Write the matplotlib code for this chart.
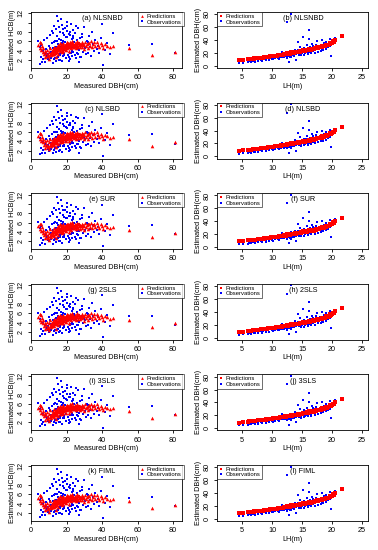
import matplotlib
matplotlib.use('Agg')
import matplotlib.pyplot as plt
from matplotlib.lines import Line2D

plt.rcParams['font.family'] = ['Liberation Sans', 'DejaVu Sans']

# tree data: DBH (cm), LH (m), observed HCB, predicted HCB, predicted DBH
dbh = [4.2, 4.8, 5.1, 5.5, 5.9, 6.3, 6.7, 7.0, 7.4, 7.8,
       8.1, 8.4, 8.9, 9.2, 9.6, 9.9, 10.3, 10.6, 11.0, 11.4,
       11.7, 12.0, 12.2, 12.5, 12.8, 13.0, 13.3, 13.5, 13.8, 14.0,
       14.2, 14.5, 14.7, 15.0, 15.2, 15.4, 15.7, 15.9, 16.1, 16.4,
       16.6, 16.8, 17.0, 17.3, 17.5, 17.7, 18.0, 18.2, 18.5, 18.8,
       19.0, 19.3, 19.5, 19.8, 20.0, 20.2, 20.5, 20.7, 21.0, 21.3,
       21.5, 21.8, 22.0, 22.3, 22.5, 22.8, 23.0, 23.3, 23.6, 23.9,
       24.2, 24.5, 24.8, 25.1, 25.4, 25.7, 26.0, 26.3, 26.6, 27.0,
       27.3, 27.7, 28.1, 28.5, 28.9, 29.3, 29.7, 30.1, 30.5, 30.9,
       31.4, 31.9, 32.5, 33.0, 33.6, 34.2, 34.8, 35.5, 36.2, 36.9,
       37.6, 38.4, 39.2, 40.0, 40.8, 41.6, 43.0, 44.5, 46.2, 55.0, 68.0, 81.0,
       12.3, 13.6, 14.9, 16.0, 17.2, 18.4, 19.6, 20.8, 22.1, 23.4,
       10.8, 14.4, 16.3, 18.1, 19.9, 21.2, 22.6, 24.0, 25.5, 27.5,
       9.4, 11.2, 13.1, 15.5, 17.9, 20.3, 23.1, 25.9, 28.7, 32.2,
       14.1, 16.9, 18.6, 20.4, 21.9, 23.7, 12.6, 17.4, 21.6, 26.8]
lh = [4.5, 5.2, 6.0, 12.8, 6.4, 7.1, 6.2, 7.6, 6.9, 8.3,
      6.8, 8.9, 14.0, 9.5, 8.1, 10.2, 7.7, 9.0, 11.1, 8.6,
      10.5, 9.3, 12.4, 11.0, 9.8, 13.2, 10.9, 12.0, 8.7, 11.6,
      13.0, 10.1, 12.7, 19.8, 11.4, 9.6, 13.6, 12.2, 10.8, 14.8,
      11.9, 13.4, 15.3, 10.6, 12.9, 14.0, 11.3, 16.0, 13.1, 12.5,
      14.6, 13.8, 16.5, 12.0, 15.0, 17.2, 13.5, 14.4, 15.8, 11.6,
      16.2, 14.1, 17.6, 15.4, 13.2, 16.8, 15.9, 18.1, 14.7, 17.0,
      15.1, 18.5, 16.4, 13.9, 17.4, 16.0, 19.0, 15.6, 17.9, 16.6,
      18.2, 15.3, 17.1, 19.4, 16.3, 18.8, 14.6, 17.7, 19.7, 16.9,
      18.0, 15.8, 19.2, 17.3, 20.0, 16.7, 18.6, 19.9, 14.3, 20.3,
      19.0, 17.5, 20.2, 18.4, 16.1, 19.6, 20.5, 15.2, 21.6, 16.2, 12.4, 13.1,
      10.0, 11.5, 12.3, 13.3, 14.5, 13.0, 15.5, 16.0, 14.0, 15.2,
      8.4, 11.8, 12.6, 14.8, 13.9, 15.1, 16.5, 14.3, 15.8, 17.3,
      7.0, 9.9, 11.2, 12.9, 13.6, 14.9, 16.3, 18.3, 17.0, 18.7,
      10.4, 12.2, 13.7, 12.8, 15.6, 16.1, 9.1, 11.1, 14.5, 16.7]
hcb_obs = [6.1, 1.2, 4.8, 2.6, 5.3, 1.6, 3.9, 2.2, 6.2, 3.4,
           1.5, 4.4, 2.9, 6.8, 3.2, 5.1, 2.0, 7.4, 3.7, 2.4,
           5.6, 8.3, 3.1, 4.5, 2.2, 9.2, 3.8, 6.1, 1.8, 4.9,
           3.4, 7.1, 11.5, 5.4, 2.7, 10.3, 4.1, 6.6, 3.0, 8.0,
           2.1, 4.7, 6.3, 3.6, 9.5, 5.0, 2.9, 7.7, 4.2, 3.3,
           5.8, 8.8, 3.9, 2.4, 6.9, 4.4, 10.1, 3.1, 5.2, 1.9,
           4.6, 7.4, 3.5, 9.7, 5.5, 2.8, 6.5, 4.0, 8.4, 3.7,
           5.9, 3.0, 7.9, 4.8, 2.5, 6.2, 4.3, 8.9, 3.4, 5.6,
           4.1, 6.7, 2.6, 5.3, 7.6, 3.8, 5.0, 9.1, 4.5, 3.2,
           6.0, 3.5, 7.2, 4.7, 2.9, 8.1, 5.4, 3.9, 6.4, 4.4,
           5.1, 3.6, 6.8, 9.8, 0.9, 4.2, 5.7, 3.3, 7.7, 5.3, 5.5, 3.5,
           7.8, 2.5, 4.0, 9.0, 5.7, 3.0, 7.0, 4.9, 2.2, 6.8,
           4.6, 6.0, 3.3, 8.6, 4.5, 7.5, 3.6, 5.3, 9.3, 2.7,
           2.3, 3.0, 5.9, 2.0, 6.1, 8.2, 4.7, 3.5, 6.9, 5.8,
           8.6, 10.8, 7.3, 9.4, 8.0, 7.1, 1.4, 1.7, 2.6, 1.6]
hcb_pred = [5.2, 5.8, 4.6, 5.6, 4.1, 5.0, 3.8, 4.5, 3.3, 4.0,
            2.6, 3.5, 2.9, 4.2, 3.1, 3.8, 2.3, 4.6, 3.4, 3.0,
            3.9, 3.3, 4.4, 4.0, 3.2, 4.8, 3.6, 4.3, 2.7, 4.1,
            4.6, 3.7, 4.9, 5.3, 4.2, 3.4, 5.1, 4.5, 3.9, 5.6,
            4.3, 4.8, 5.4, 3.8, 4.7, 5.0, 4.0, 5.7, 4.9, 4.4,
            5.2, 5.0, 5.5, 4.1, 5.3, 5.8, 4.6, 5.1, 5.6, 4.0,
            5.4, 4.8, 5.9, 5.2, 4.5, 5.6, 5.3, 6.1, 4.9, 5.5,
            5.0, 5.7, 5.3, 4.6, 5.5, 5.1, 6.0, 4.8, 5.6, 5.2,
            5.6, 4.7, 5.2, 5.8, 4.9, 5.5, 4.4, 5.3, 5.9, 5.0,
            5.4, 4.6, 5.7, 5.1, 6.0, 4.8, 5.5, 5.8, 5.0, 5.9,
            5.3, 4.9, 5.6, 5.2, 4.6, 5.4, 5.1, 4.8, 5.0, 4.5, 3.0, 3.8,
            3.5, 4.5, 4.4, 5.0, 5.2, 4.6, 5.4, 5.5, 4.7, 5.2,
            3.2, 4.2, 4.5, 5.3, 4.9, 5.1, 5.6, 4.8, 5.2, 5.5,
            2.8, 3.6, 3.9, 4.7, 4.8, 5.0, 5.3, 5.7, 5.4, 5.6,
            3.8, 4.6, 5.0, 4.8, 5.5, 5.4, 3.4, 4.2, 5.0, 5.6]
dbh_pred = [8.5, 9.3, 10.1, 19.2, 10.6, 11.5, 10.4, 12.0, 11.2, 12.8,
            11.0, 13.4, 20.8, 14.3, 12.6, 15.2, 12.1, 13.6, 16.4, 13.1,
            15.5, 14.1, 18.3, 16.2, 14.7, 19.6, 16.0, 17.6, 13.2, 17.0,
            19.0, 15.0, 18.7, 35.0, 16.9, 14.5, 20.3, 18.0, 15.8, 22.7,
            17.5, 19.8, 23.5, 15.7, 19.2, 21.0, 16.6, 24.6, 19.5, 18.5,
            22.0, 20.9, 25.4, 17.8, 22.6, 27.0, 20.1, 21.7, 24.2, 17.2,
            24.8, 21.2, 27.8, 23.6, 19.8, 26.0, 24.4, 28.9, 22.3, 26.5,
            23.0, 30.1, 25.2, 21.0, 27.2, 24.6, 31.5, 23.8, 28.4, 25.9,
            29.5, 23.4, 27.0, 32.6, 25.0, 31.0, 22.0, 28.2, 34.0, 26.6,
            28.8, 24.6, 31.8, 27.6, 36.0, 26.2, 30.4, 35.2, 21.5, 37.5,
            33.0, 28.5, 38.2, 31.0, 25.8, 36.0, 40.5, 24.0, 45.5, 26.0, 19.5, 20.8,
            14.8, 16.8, 17.7, 19.4, 21.2, 19.0, 23.0, 24.0, 20.6, 22.8,
            12.7, 17.3, 18.5, 22.2, 20.6, 22.9, 25.0, 21.6, 23.9, 26.8,
            11.3, 14.9, 16.5, 19.2, 20.3, 22.4, 24.6, 29.2, 25.5, 30.2,
            15.6, 18.2, 20.4, 19.0, 23.7, 24.8, 13.6, 16.4, 21.5, 25.6]

models = ['NLSNBD', 'NLSBD', 'SUR', '2SLS', '3SLS', 'FIML']
letters = 'abcdefghijkl'

W, H = 378, 550
fig = plt.figure(figsize=(W / 100, H / 100), dpi=100)

fs = 5.2
ms = 2.1


def style(ax):
    for s in ax.spines.values():
        s.set_linewidth(0.6)
    ax.tick_params(direction='out', length=2.5, width=0.6, labelsize=fs, pad=2)
    for lab in ax.get_yticklabels():
        lab.set_rotation(90)
        lab.set_va('center')


def add_legend(ax, pred_marker, loc, anchor):
    handles = [Line2D([], [], ls='', marker=pred_marker, color='red', ms=2.0, mew=0),
               Line2D([], [], ls='', marker='s', color='blue', ms=1.6, mew=0)]
    leg = ax.legend(handles, ['Predictions', 'Observations'], loc=loc,
                    bbox_to_anchor=anchor, fontsize=4.2, frameon=True,
                    fancybox=False, edgecolor='black', handlelength=0.8,
                    handletextpad=0.4, borderpad=0.3, labelspacing=0.1,
                    borderaxespad=0)
    leg.get_frame().set_linewidth(0.5)


for i, m in enumerate(models):
    top = 12 + 90.6 * i
    bottom = 1 - (top + 56) / H

    # left: HCB vs DBH
    ax = fig.add_axes([31 / W, bottom, 151 / W, 56 / H])
    ax.plot(dbh, hcb_obs, 's', color='blue', ms=ms, mew=0)
    ax.plot(dbh, hcb_pred, '^', color='red', ms=ms + 0.5, mew=0)
    ax.set_xlim(0, 85)
    ax.set_ylim(0.3, 12.3)
    ax.set_xticks([0, 20, 40, 60, 80])
    ax.set_yticks([2, 4, 6, 8, 10, 12])
    ax.set_yticklabels(['2', '4', '6', '8', '', '12'])
    ax.set_xlabel('Measured DBH(cm)', fontsize=fs, labelpad=1)
    ax.set_ylabel('Estimated HCB(m)', fontsize=fs, labelpad=1)
    ax.text(0.47, 0.88, '(%s) %s' % (letters[2 * i], m), transform=ax.transAxes,
            ha='center', va='center', fontsize=fs)
    add_legend(ax, '^', 'upper right', (1.01, 1.0))
    style(ax)

    # right: DBH vs LH
    ax = fig.add_axes([217 / W, bottom, 151 / W, 56 / H])
    ax.plot(lh, dbh, 's', color='blue', ms=ms, mew=0)
    ax.plot(lh, dbh_pred, 's', color='red', ms=ms + 0.2, mew=0)
    ax.set_xlim(0.8, 26)
    ax.set_ylim(-3.5, 83.5)
    ax.set_xticks([5, 10, 15, 20, 25])
    ax.set_yticks([0, 20, 40, 60, 80])
    ax.set_xlabel('LH(m)', fontsize=fs, labelpad=1)
    ax.set_ylabel('Estimated DBH(cm)', fontsize=fs, labelpad=1)
    ax.text(0.57, 0.88, '(%s) %s' % (letters[2 * i + 1], m), transform=ax.transAxes,
            ha='center', va='center', fontsize=fs)
    add_legend(ax, 's', 'upper left', (0.0, 1.0))
    style(ax)

fig.savefig('out.png', dpi=100)
